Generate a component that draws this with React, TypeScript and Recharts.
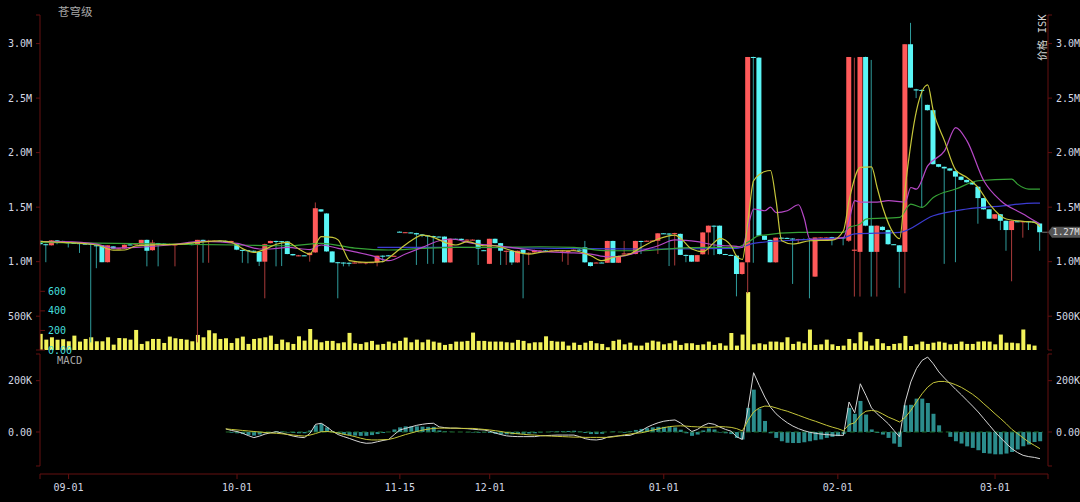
import React from "react";
import {
  ComposedChart,
  Bar,
  Line,
  XAxis,
  YAxis,
  ReferenceLine,
  ReferenceDot,
} from "recharts";

// daily candles in thousand ISK: [open, high, low, close]
const candles: [number, number, number, number][] = [
  [1192, 1195, 1150, 1160], [1160, 1165, 995, 1155], [1150, 1198, 1148, 1195], [1195, 1198, 1160, 1180],
  [1190, 1192, 1172, 1175], [1178, 1180, 1130, 1172], [1172, 1175, 1168, 1170], [1170, 1172, 1080, 1165],
  [1165, 1168, 1160, 1163], [1165, 1168, 260, 1160], [1150, 1155, 940, 1145], [1150, 1152, 995, 995],
  [995, 1150, 993, 1150], [1140, 1142, 1118, 1120], [1120, 1125, 1115, 1122], [1120, 1158, 1118, 1155],
  [1158, 1160, 1150, 1152], [1160, 1168, 1158, 1165], [1155, 1200, 1150, 1200], [1200, 1202, 957, 1100],
  [1105, 1200, 1100, 1175], [1170, 1172, 957, 1165], [1165, 1168, 1160, 1162], [1160, 1165, 1158, 1162],
  [1155, 1160, 957, 1158], [1160, 1165, 1158, 1163], [1163, 1165, 1160, 1162], [1165, 1168, 1150, 1152],
  [1155, 1200, 260, 1200], [1200, 1202, 990, 1190], [1188, 1200, 990, 1192], [1190, 1195, 1185, 1192],
  [1192, 1195, 1188, 1190], [1190, 1192, 1186, 1188], [1188, 1192, 1185, 1190], [1160, 1165, 1105, 1110],
  [1108, 1110, 990, 1105], [1105, 1108, 985, 1100], [1100, 1102, 1090, 1095], [1090, 1092, 960, 1000],
  [1000, 1165, 664, 1160], [1170, 1192, 1168, 1190], [1190, 1192, 957, 1188], [1188, 1190, 960, 1185],
  [1186, 1190, 1068, 1070], [1070, 1072, 1055, 1058], [1055, 1062, 1050, 1058], [1058, 1060, 1052, 1055],
  [1060, 1085, 1000, 1082], [1085, 1543, 1080, 1490], [1480, 1482, 1455, 1460], [1442, 1445, 1090, 1094],
  [1094, 1096, 993, 993], [995, 998, 664, 990], [992, 995, 957, 990], [990, 993, 957, 988],
  [990, 995, 985, 992], [992, 996, 988, 994], [990, 995, 975, 993], [993, 996, 990, 995],
  [993, 1055, 957, 1055], [1055, 1058, 995, 1052], [1058, 1060, 1050, 1052], [1052, 1055, 1048, 1054],
  [1275, 1278, 1270, 1272], [1268, 1272, 1265, 1270], [1268, 1270, 1262, 1265], [1262, 1265, 970, 1250],
  [1250, 1252, 1225, 1240], [1240, 1242, 980, 1235], [1235, 1238, 980, 1230], [1230, 1232, 1225, 1228],
  [1230, 1232, 993, 993], [993, 1212, 990, 1210], [1210, 1212, 1200, 1205], [1210, 1212, 1195, 1198],
  [1200, 1205, 1195, 1202], [1200, 1205, 1195, 1202], [1200, 1202, 970, 1120], [1105, 1108, 1100, 1104],
  [980, 1210, 978, 1210], [1210, 1212, 1168, 1170], [1170, 1172, 970, 1100], [1098, 1102, 970, 1100],
  [1100, 1102, 970, 993], [993, 1102, 990, 1100], [1110, 1112, 664, 1080], [1080, 1085, 970, 1082],
  [1085, 1110, 1082, 1105], [1100, 1105, 1095, 1102], [1102, 1105, 1098, 1100], [1100, 1104, 1096, 1101],
  [1100, 1108, 1095, 1105], [1100, 1105, 1000, 1102], [1095, 1100, 970, 1098], [1100, 1112, 1098, 1110],
  [1110, 1115, 1105, 1108], [1131, 1190, 990, 994], [994, 996, 955, 960], [990, 995, 988, 992],
  [992, 995, 988, 990], [990, 1192, 988, 1190], [1190, 1192, 988, 990], [990, 1055, 988, 1050],
  [1070, 1190, 1065, 1075], [1075, 1080, 1070, 1078], [1070, 1192, 1068, 1190], [1190, 1192, 1070, 1185],
  [1190, 1195, 1188, 1192], [1192, 1195, 1188, 1193], [1192, 1262, 1070, 1260], [1260, 1262, 1255, 1258],
  [1258, 1262, 960, 1255], [1260, 1265, 965, 1262], [1255, 1258, 1060, 1062], [1062, 1065, 995, 1060],
  [1060, 1062, 998, 1000], [1000, 1062, 998, 1060], [1068, 1270, 1065, 1268], [1268, 1332, 1065, 1330],
  [1330, 1332, 1060, 1328], [1330, 1332, 1065, 1070], [1070, 1072, 1062, 1068], [1062, 1065, 1058, 1060],
  [1055, 1058, 682, 887], [887, 994, 880, 994], [994, 2877, 710, 2877], [2877, 2880, 990, 2870],
  [2871, 2875, 1235, 1238], [1238, 1240, 1198, 1200], [1200, 1202, 992, 994], [994, 1222, 990, 1220],
  [1220, 1222, 1215, 1218], [1218, 1222, 1212, 1215], [1212, 1215, 796, 1205], [1205, 1210, 1170, 1208],
  [1208, 1212, 1200, 1205], [1210, 1212, 664, 1205], [863, 1222, 860, 1222], [1215, 1225, 1212, 1222],
  [1215, 1225, 1210, 1222], [1225, 1228, 1150, 1215], [1215, 1225, 1212, 1222], [1222, 1225, 1150, 1215],
  [1192, 2877, 1180, 2877], [1100, 2870, 680, 1110], [1090, 2877, 680, 2877], [2877, 2880, 1325, 1330],
  [1330, 2850, 680, 1090], [1090, 1332, 680, 1330], [1320, 1325, 1285, 1290], [1290, 1295, 1155, 1160],
  [1160, 1162, 1155, 1158], [1150, 1152, 760, 1090], [1090, 2994, 710, 2994], [2994, 3190, 2596, 2596],
  [2580, 2585, 2500, 2570], [2575, 2580, 1497, 2570], [2438, 2440, 2385, 2389], [2389, 2392, 1890, 1894],
  [1894, 1896, 1865, 1870], [1870, 1872, 980, 1855], [1855, 1858, 1830, 1835], [1830, 1832, 995, 1780],
  [1780, 1782, 1745, 1750], [1750, 1752, 1725, 1728], [1728, 1730, 1705, 1708], [1687, 1690, 1348, 1583],
  [1583, 1585, 1478, 1480], [1480, 1482, 1390, 1394], [1394, 1436, 1390, 1435], [1435, 1437, 1290, 1375],
  [1375, 1377, 1100, 1290], [1290, 1377, 820, 1375], [1370, 1372, 1365, 1368], [1365, 1372, 1220, 1370],
  [1370, 1372, 1290, 1368], [1368, 1370, 1362, 1365], [1350, 1352, 1100, 1270],
];

// traded volume per day
const volumes: (number | null)[] = [
  165, 106, 130, 105, 110, 89, 147, 86, 113, 130, 89, 89, 130, 55, 123, 120, 106, 205, 62, 89,
  113, 113, 72, 137, 120, 113, 106, 89, 154, 130, 202, 171, 113, 120, 72, 120, 137, 62, 113, 120,
  130, 147, 62, 106, 79,
  62, 140, 96, 215, 106, 79, 93, 93, 69, 79, 175, 69, 62, 79, 93, 55, 62, 86, 69, 93,
  127, 79, 106, 79, 106, 86, 75, 52, 62, 86, 86, 93, 178, 93, 93, 86, 86, 86, 79, 75,
  103, 93, 69, 79,
  79, 140, 93, 86, 86, 45, 75, 52, 75, 93, 69, 62, 28, 93, 106, 58, 75, 45, 45, 75,
  96, 86, 58, 69, 96, 52, 69, 69, 52, 58, 86, 52, 69, 45, 174, 45, 158, 592, 58, 69,
  58, 86, 86, 79, 130,
  62, 86, 69, 209, 52, 58, 106, 58, 41, 45, 113, 69, 182, 89, 45, 113, 69, 41, 62, 69,
  144, 41, 58, 86, 62, 75, 86, 75, 58, 62, 86, 62, 62, 86, 89, 86, 58, 158, 75, 75,
  69, 209, 58, 45, null,
];

// MACD (thousand ISK), first value belongs to day index 33
const macdStart = 33;
const difValues = [
  12, 6, 2, -5, -14, -22, -16, -8, -3, 1,
  -4, -10, -16, -20, -22, -5, 30, 34, 20, 3,
  -10, -18, -25, -33, -40, -44, -43, -38, -33, -29,
  -10, 8, 14, 20, 26, 30, 33, 34, 20, 17,
  15, 15, 14, 13, 11, 9, 8, 3, -4, -10,
  -15, -17, -18, -18, -18, -18, -15, -14, -13, -12,
  -12, -12, -12, -18, -26, -30, -31, -28, -20, -17,
  -15, -14, -13, -5, 5, 18, 28, 36, 42, 45,
  47, 35, 18, 2, 10, 25, 34, 30, 19, 10,
  3, -19, -29, 91, 231, 182, 136, 97, 71, 52,
  36, 23, 13, 5, -1, -5, -8, -10, -12, -13,
  -13, 117, 75, 188, 143, 94, 71, 52, 32, 6,
  -19, 117, 195, 247, 279, 292, 266, 234, 210, 188,
  166, 145, 123, 101, 78, 52, 26, 0, -23, -45,
  -65, -80, -91, -96, -99, -104,
];
const deaValues = [
  12, 10, 8, 6, 4, 2, 0, -2, -4, -5,
  -7, -9, -12, -14, -16, -12, -6, 1, 2, 0,
  -4, -9, -13, -18, -24, -29, -31, -31, -30, -29,
  -24, -17, -10, -4, 2, 7, 11, 14, 15, 15,
  15, 15, 14, 14, 14, 12, 10, 8, 5, 2,
  -2, -5, -7, -9, -11, -12, -14, -15, -16, -17,
  -18, -19, -20, -20, -21, -21, -21, -21, -21, -19,
  -15, -11, -8, -5, -3, 2, 7, 12, 17, 21,
  23, 24, 23, 21, 20, 19, 18, 19, 21, 20,
  18, 13, 4, 45, 78, 94, 101, 100, 94, 87,
  81, 73, 65, 57, 49, 42, 34, 26, 19, 13,
  5, 29, 36, 65, 81, 84, 81, 70, 58, 49,
  39, 57, 84, 117, 149, 175, 192, 197, 197, 192,
  184, 174, 161, 147, 130, 110, 91, 71, 52, 32,
  10, -6, -23, -39, -52, -65,
];
const histValues = [
  0, -3, -5, -8, -12, -14, -10, -5, -2, 3,
  2, -2, -4, -5, -5, 6, 26, 32, 18, 4,
  -6, -9, -12, -14, -15, -15, -12, -8, -4, 0,
  10, 18, 22, 22, 22, 21, 20, 20, 6, 3,
  1, 0, 0, -1, -2, -3, -2, -4, -7, -9,
  -9, -9, -8, -7, -6, -5, -2, 0, 2, 3,
  3, 4, 5, 2, -4, -8, -8, -7, 0, 2,
  0, -3, 3, 8, 12, 15, 18, 20, 20, 20,
  18, 9, -5, -15, -10, 6, 14, 10, -2, -5,
  -8, -23, -29, 94, 165, 91, 43, -5, -23, -36,
  -42, -43, -43, -40, -36, -32, -29, -23, -19, -16,
  -8, 94, 71, 121, 68, 10, -4, -10, -23, -45,
  -58, 104, 106, 130, 130, 113, 71, 26, 0, -19,
  -36, -45, -56, -62, -71, -82, -84, -87, -87, -84,
  -78, -68, -56, -49, -39, -36,
];

// moving averages read at [day index, thousand ISK]
const maYellow: [number, number][] = [
  [0, 1185], [4, 1177], [10, 1153], [13, 1105], [15, 1107], [17, 1145], [21, 1155], [25, 1161],
  [28, 1177], [32, 1190], [34, 1177], [36, 1120], [38, 1085], [40, 1115], [42, 1160], [44, 1177],
  [46, 1116], [48, 1070], [49, 1160], [50, 1230], [52, 1223], [53, 1200], [54, 1105], [55, 1010],
  [58, 994], [61, 1000], [62, 1034], [64, 1116], [66, 1192], [68, 1244], [70, 1223], [72, 1177],
  [74, 1153], [76, 1183], [79, 1146], [81, 1146], [83, 1116], [85, 1085], [87, 1070], [89, 1085],
  [92, 1100], [95, 1100], [98, 1054], [100, 1009], [102, 1039], [105, 1070], [107, 1131], [110, 1208],
  [113, 1244], [114, 1214], [116, 1116], [118, 1092], [120, 1177], [121, 1214], [123, 1146], [124, 1048],
  [125, 1020], [126, 1377], [127, 1742], [129, 1827], [130, 1836], [131, 1559], [132, 1192], [134, 1162],
  [137, 1192], [141, 1198], [143, 1284], [144, 1559], [146, 1864], [148, 1870], [149, 1680], [150, 1497],
  [152, 1254], [153, 1210], [154, 1680], [156, 2383], [158, 2621], [159, 2383], [161, 2108], [163, 1840],
  [165, 1772], [167, 1680], [169, 1528], [172, 1391], [175, 1370], [177, 1360], [178, 1320],
];
const maMagenta: [number, number][] = [
  [0, 1185], [4, 1183], [10, 1161], [13, 1125], [17, 1131], [23, 1153], [29, 1186], [35, 1168],
  [39, 1116], [41, 1116], [44, 1131], [48, 1110], [50, 1153], [53, 1122], [56, 1090], [59, 1055],
  [62, 1009], [65, 1070], [68, 1131], [71, 1192], [73, 1208], [77, 1168], [81, 1146], [86, 1116],
  [89, 1095], [95, 1080], [98, 1070], [101, 1045], [104, 1054], [107, 1100], [110, 1146], [113, 1200],
  [117, 1183], [120, 1153], [122, 1146], [124, 1140], [125, 1132], [126, 1320], [127, 1483], [129, 1467],
  [130, 1500], [131, 1450], [133, 1467], [135, 1522], [136, 1400], [137, 1208], [139, 1200], [143, 1220],
  [144, 1375], [145, 1559], [146, 1546], [149, 1546], [151, 1559], [154, 1546], [155, 1680], [156, 1665],
  [158, 1879], [161, 2016], [163, 2230], [165, 2108], [168, 1742], [171, 1559], [175, 1437], [177, 1375],
  [178, 1345],
];
const maGreen: [number, number][] = [
  [0, 1177], [10, 1170], [23, 1161], [35, 1153], [44, 1146], [50, 1168], [56, 1125], [62, 1107],
  [68, 1122], [74, 1131], [80, 1131], [89, 1137], [95, 1131], [101, 1100], [107, 1100], [113, 1122],
  [119, 1131], [124, 1131], [126, 1180], [128, 1238], [135, 1268], [143, 1268], [144, 1314], [146, 1345],
  [147, 1391], [153, 1406], [155, 1528], [157, 1497], [159, 1589], [163, 1666], [167, 1742], [173, 1757],
  [174, 1711], [176, 1666], [178, 1666],
];
const maBlue: [number, number][] = [
  [60, 1131], [74, 1131], [89, 1125], [107, 1116], [124, 1122], [127, 1168], [135, 1200], [143, 1220],
  [145, 1254], [153, 1268], [159, 1421], [165, 1483], [171, 1510], [177, 1537], [178, 1537],
];

const lastPrice = 1270;
const tickDays = [5, 35, 64, 80, 111, 142, 170];
const tickLabels = ["09-01", "10-01", "11-15", "12-01", "01-01", "02-01", "03-01"];

const K = 1000;
const X_DOMAIN: [number, number] = [-0.09, 179.43];
const P_DOMAIN: [number, number] = [190000, 3262000];
const V_DOMAIN: [number, number] = [0, 3425];
const M_DOMAIN: [number, number] = [-163700, 304000];
const M_AXIS_LOW = -132500;

const UP = "#ff5a5a";
const DOWN = "#5af6f6";
const WICK_UP = "#a83a3a";
const WICK_DOWN = "#2f9c9c";
const AXIS = "#641010";
const TXT = "#d4d8e4";
const MONO = "'DejaVu Sans Mono', monospace";
const CJK = "'Noto Sans CJK SC', sans-serif";

type Row = {
  i: number;
  open: number;
  high: number;
  low: number;
  close: number;
  vol: number | null;
  dif: number | null;
  dea: number | null;
  hist: number | null;
  ma5: number | null;
  ma10: number | null;
  ma30: number | null;
  ma60: number | null;
};

const rows: Row[] = candles.map(([o, h, l, c], i) => {
  const m = i - macdStart;
  return {
    i,
    open: o * K,
    high: h * K,
    low: l * K,
    close: c * K,
    vol: volumes[i] ?? null,
    dif: m >= 0 ? difValues[m] * K : null,
    dea: m >= 0 ? deaValues[m] * K : null,
    hist: m >= 0 ? histValues[m] * K : null,
    ma5: null,
    ma10: null,
    ma30: null,
    ma60: null,
  };
});
maYellow.forEach(([i, v]) => (rows[i].ma5 = v * K));
maMagenta.forEach(([i, v]) => (rows[i].ma10 = v * K));
maGreen.forEach(([i, v]) => (rows[i].ma30 = v * K));
maBlue.forEach(([i, v]) => (rows[i].ma60 = v * K));

const priceTicks = [P_DOMAIN[0], 500000, 1000000, 1500000, 2000000, 2500000, 3000000, P_DOMAIN[1]];
const fmtPrice = (v: number) => {
  if (v === 500000) return "500K";
  if (v >= 1000000 && v % 500000 === 0) return (v / 1000000).toFixed(1) + "M";
  return "";
};
const macdTicks = [M_AXIS_LOW, 0, 200000, M_DOMAIN[1]];
const fmtMacd = (v: number) => (v === 0 ? "0.00" : v === 200000 ? "200K" : "");
const xTicks = [X_DOMAIN[0], ...tickDays, X_DOMAIN[1]];
const fmtDate = (v: number) => {
  const k = tickDays.indexOf(v);
  return k >= 0 ? tickLabels[k] : "";
};

const Candle = (props: any) => {
  const { x, y, width, height, index } = props;
  const d: Row = props.payload && props.payload.open !== undefined ? props.payload : rows[index];
  if (!d) return null;
  const top0 = Math.min(y, y + height);
  const h = Math.abs(height);
  const k = h / (d.high - d.low);
  const up = d.close >= d.open;
  const bodyTop = top0 + (d.high - Math.max(d.open, d.close)) * k;
  const bodyH = Math.max(1, Math.abs(d.close - d.open) * k);
  const cx = x + width / 2;
  return (
    <g>
      <line x1={cx} x2={cx} y1={top0} y2={top0 + h} stroke={up ? WICK_UP : WICK_DOWN} strokeWidth={1} />
      <rect x={x} y={bodyTop} width={width} height={bodyH} fill={up ? UP : DOWN} />
    </g>
  );
};

const PriceTag = (props: any) => {
  const { cx, cy } = props;
  if (cx == null || cy == null) return null;
  const label = `${(lastPrice / 1000).toFixed(2)}M`;
  return (
    <g>
      <polygon
        points={`${cx},${cy} ${cx + 4},${cy - 5.5} ${cx + 32},${cy - 5.5} ${cx + 32},${cy + 5.5} ${cx + 4},${cy + 5.5}`}
        fill="#555"
      />
      <text x={cx + 4.5} y={cy} dy="0.35em" fill="#e4e4e4" fontSize={9} fontFamily={MONO}>
        {label}
      </text>
    </g>
  );
};

const tickStyle = { fill: TXT, fontSize: 10, fontFamily: MONO };

export default function App() {
  return (
    <div
      style={{
        position: "fixed",
        left: 0,
        top: 0,
        width: 1080,
        height: 502,
        background: "#000",
        overflow: "hidden",
      }}
    >
      <div style={{ position: "absolute", left: 0, top: 0 }}>
        <ComposedChart width={1080} height={360} data={rows} margin={{ top: 15, right: 0, bottom: 10, left: 0 }}>
          <XAxis xAxisId="xp" type="number" dataKey="i" domain={X_DOMAIN} allowDataOverflow hide />
          <XAxis xAxisId="xv" type="number" dataKey="i" domain={X_DOMAIN} allowDataOverflow hide />
          <YAxis
            yAxisId="p"
            orientation="left"
            width={40}
            domain={P_DOMAIN}
            allowDataOverflow
            ticks={priceTicks}
            interval={0}
            tickFormatter={fmtPrice}
            axisLine={{ stroke: AXIS }}
            tickLine={{ stroke: AXIS }}
            tickSize={4}
            tickMargin={4}
            tick={tickStyle}
          />
          <YAxis
            yAxisId="v"
            orientation="left"
            mirror
            width={30}
            domain={V_DOMAIN}
            allowDataOverflow
            ticks={[0, 200, 400, 600]}
            interval={0}
            tickFormatter={(v: number) => (v === 0 ? "0.00" : String(v))}
            axisLine={false}
            tickLine={{ stroke: AXIS }}
            tickSize={5}
            tickMargin={3}
            tick={{ fill: "#44dede", fontSize: 10, fontFamily: MONO }}
          />
          <YAxis
            yAxisId="pr"
            orientation="right"
            width={32}
            domain={P_DOMAIN}
            allowDataOverflow
            ticks={priceTicks}
            interval={0}
            tickFormatter={fmtPrice}
            axisLine={{ stroke: AXIS }}
            tickLine={{ stroke: AXIS }}
            tickSize={4}
            tickMargin={4}
            tick={tickStyle}
          />
          <Bar
            xAxisId="xv"
            yAxisId="v"
            dataKey="vol"
            fill="#f2f25a"
            barSize={4}
            isAnimationActive={false}
          />
          <Bar
            xAxisId="xp"
            yAxisId="p"
            dataKey={(d: Row) => [d.low, d.high]}
            barSize={5}
            shape={Candle}
            isAnimationActive={false}
          />
          <Line xAxisId="xp" yAxisId="p" dataKey="ma60" type="monotone" stroke="#3c3cd2" strokeWidth={1.2} dot={false} activeDot={false} connectNulls isAnimationActive={false} />
          <Line xAxisId="xp" yAxisId="p" dataKey="ma30" type="monotone" stroke="#36a236" strokeWidth={1.2} dot={false} activeDot={false} connectNulls isAnimationActive={false} />
          <Line xAxisId="xp" yAxisId="p" dataKey="ma10" type="monotone" stroke="#b648c6" strokeWidth={1.2} dot={false} activeDot={false} connectNulls isAnimationActive={false} />
          <Line xAxisId="xp" yAxisId="p" dataKey="ma5" type="monotone" stroke="#c6c63a" strokeWidth={1.2} dot={false} activeDot={false} connectNulls isAnimationActive={false} />
          <Line xAxisId="xp" yAxisId="pr" dataKey="close" stroke="none" dot={false} activeDot={false} isAnimationActive={false} />
          <ReferenceLine
            xAxisId="xp"
            yAxisId="p"
            segment={[
              { x: 178.4, y: lastPrice * K },
              { x: X_DOMAIN[1], y: lastPrice * K },
            ]}
            stroke="#777"
            ifOverflow="visible"
          />
          <ReferenceDot
            xAxisId="xp"
            yAxisId="p"
            x={X_DOMAIN[1]}
            y={lastPrice * K}
            ifOverflow="visible"
            shape={PriceTag}
          />
        </ComposedChart>
      </div>

      <div style={{ position: "absolute", left: 0, top: 352 }}>
        <ComposedChart width={1080} height={150} data={rows} margin={{ top: 2, right: 0, bottom: 0, left: 0 }}>
          <XAxis
            xAxisId="x"
            type="number"
            dataKey="i"
            domain={X_DOMAIN}
            allowDataOverflow
            ticks={xTicks}
            interval={0}
            tickFormatter={fmtDate}
            height={28}
            axisLine={{ stroke: AXIS }}
            tickLine={{ stroke: AXIS }}
            tickSize={5}
            tickMargin={5}
            tick={tickStyle}
          />
          <YAxis
            yAxisId="m"
            orientation="left"
            width={40}
            domain={M_DOMAIN}
            allowDataOverflow
            ticks={macdTicks}
            interval={0}
            tickFormatter={fmtMacd}
            axisLine={false}
            tickLine={{ stroke: AXIS }}
            tickSize={4}
            tickMargin={4}
            tick={tickStyle}
          />
          <YAxis
            yAxisId="mr"
            orientation="right"
            width={32}
            domain={M_DOMAIN}
            allowDataOverflow
            ticks={macdTicks}
            interval={0}
            tickFormatter={fmtMacd}
            axisLine={false}
            tickLine={{ stroke: AXIS }}
            tickSize={4}
            tickMargin={4}
            tick={tickStyle}
          />
          <ReferenceLine
            xAxisId="x"
            yAxisId="m"
            segment={[
              { x: X_DOMAIN[0], y: M_AXIS_LOW },
              { x: X_DOMAIN[0], y: M_DOMAIN[1] },
            ]}
            stroke={AXIS}
            ifOverflow="visible"
          />
          <ReferenceLine
            xAxisId="x"
            yAxisId="m"
            segment={[
              { x: X_DOMAIN[1], y: M_AXIS_LOW },
              { x: X_DOMAIN[1], y: M_DOMAIN[1] },
            ]}
            stroke={AXIS}
            ifOverflow="visible"
          />
          <ReferenceLine
            xAxisId="x"
            yAxisId="m"
            segment={[
              { x: macdStart, y: 0 },
              { x: 178.5, y: 0 },
            ]}
            stroke="#1f6a2c"
            strokeDasharray="5 3"
            ifOverflow="visible"
          />
          <Bar xAxisId="x" yAxisId="m" dataKey="hist" fill="#2b8c8c" barSize={4} isAnimationActive={false} />
          <Line xAxisId="x" yAxisId="m" dataKey="dif" stroke="#d6d6d6" strokeWidth={1} dot={false} activeDot={false} isAnimationActive={false} />
          <Line xAxisId="x" yAxisId="m" dataKey="dea" stroke="#c6c63a" strokeWidth={1} dot={false} activeDot={false} isAnimationActive={false} />
          <Line xAxisId="x" yAxisId="mr" dataKey="dif" stroke="none" dot={false} activeDot={false} isAnimationActive={false} />
        </ComposedChart>
      </div>

      <svg
        width={1080}
        height={502}
        style={{ position: "absolute", left: 0, top: 0, pointerEvents: "none" }}
      >
        <text x={58} y={11.5} dy="0.35em" fill="#a8a8a8" fontSize={11.5} fontFamily={CJK}>
          苍穹级
        </text>
        <text x={57} y={360} dy="0.35em" fill="#a8a8a8" fontSize={10.5} fontFamily={MONO}>
          MACD
        </text>
        <text
          x={0}
          y={0}
          dy="0.35em"
          textAnchor="middle"
          transform="translate(1042,37.5) rotate(-90)"
          fill="#d4d4d4"
          fontSize={10.5}
          fontFamily={`'DejaVu Sans Mono', 'Noto Sans CJK SC', monospace`}
        >
          价格 ISK
        </text>
      </svg>
    </div>
  );
}
